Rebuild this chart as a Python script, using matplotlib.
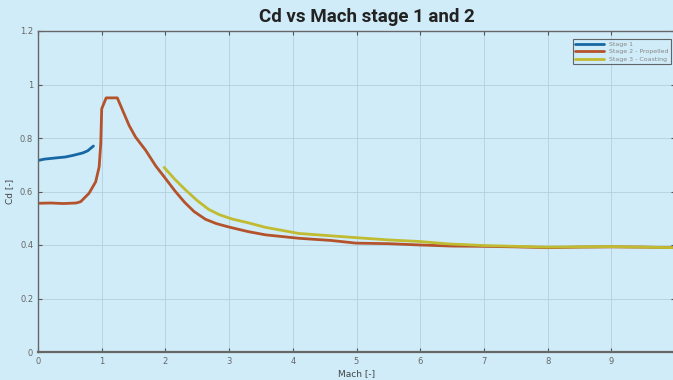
import matplotlib
matplotlib.use("Agg")
import matplotlib.pyplot as plt

# Stage 1
mach_s1 = [0.0, 0.1, 0.3, 0.43, 0.55, 0.7, 0.78, 0.83, 0.87]
cd_s1 = [0.716, 0.721, 0.726, 0.729, 0.735, 0.744, 0.752, 0.762, 0.770]

# Stage 2 - Propelled
mach_s2 = [0.0, 0.2, 0.4, 0.6, 0.67, 0.8, 0.905, 0.96, 0.985, 1.0, 1.07, 1.245,
           1.43, 1.53, 1.69, 1.85, 2.0, 2.15, 2.3, 2.45, 2.63, 2.8, 3.0, 3.3,
           3.57, 4.1, 4.6, 4.99, 5.5, 6.0, 6.5, 7.0, 7.5, 8.0, 8.5, 9.0, 9.5, 10.0]
cd_s2 = [0.556, 0.557, 0.555, 0.557, 0.562, 0.593, 0.636, 0.692, 0.779, 0.909,
         0.950, 0.950, 0.847, 0.804, 0.754, 0.695, 0.649, 0.602, 0.560, 0.525,
         0.496, 0.480, 0.467, 0.450, 0.438, 0.425, 0.417, 0.407, 0.405, 0.400,
         0.396, 0.395, 0.393, 0.390, 0.392, 0.393, 0.392, 0.390]

# Stage 3 - Coasting
mach_s3 = [1.98, 2.15, 2.32, 2.5, 2.68, 2.85, 3.05, 3.3, 3.57, 4.1, 4.62, 5.14,
           5.5, 6.0, 6.45, 7.0, 7.5, 8.0, 8.5, 9.0, 9.5, 10.0]
cd_s3 = [0.690, 0.645, 0.605, 0.566, 0.533, 0.513, 0.497, 0.483, 0.466, 0.443,
         0.434, 0.425, 0.419, 0.413, 0.404, 0.398, 0.395, 0.392, 0.393, 0.394,
         0.392, 0.390]

xticks = [0, 1, 2, 3, 4, 5, 6, 7, 8, 9, 10]
xticklabels = ["0", "1", "2", "3", "4", "5", "6", "7", "8", "9", ""]
yticks = [0, 0.2, 0.4, 0.6, 0.8, 1.0, 1.2]
yticklabels = ["0", "0.2", "0.4", "0.6", "0.8", "1", "1.2"]

bg = "#d0ecf8"
fig = plt.figure(figsize=(6.73, 3.80), dpi=100, facecolor=bg)
ax = fig.add_axes([38/673, 1 - 352/380, (675 - 38)/673, (352 - 31)/380])
ax.set_facecolor(bg)

ax.plot(mach_s1, cd_s1, color="#1667a3", lw=2.0, label="Stage 1", solid_capstyle="round")
ax.plot(mach_s2, cd_s2, color="#b4532b", lw=2.0, label="Stage 2 - Propelled", solid_capstyle="round")
ax.plot(mach_s3, cd_s3, color="#c0bb30", lw=2.0, label="Stage 3 - Coasting", solid_capstyle="round")

ax.set_xlim(0, 10)
ax.set_ylim(0, 1.2)
ax.set_xticks(xticks)
ax.set_xticklabels(xticklabels)
ax.set_yticks(yticks)
ax.set_yticklabels(yticklabels)
ax.grid(True, color="#b3ccd9", lw=0.7, alpha=0.8)
ax.set_axisbelow(True)
ax.tick_params(direction="in", length=3, width=0.8, colors="#555555",
               labelsize=6, labelcolor="#666666", top=True, right=True)
for s in ax.spines.values():
    s.set_color("#666666")
    s.set_linewidth(1.0)
ax.spines["bottom"].set_linewidth(1.6)

ax.set_xlabel("Mach [-]", fontsize=6.5, color="#444444", labelpad=2)
ax.set_ylabel("Cd [-]", fontsize=6.5, color="#444444", labelpad=4)

fig.text(367/673, 1 - 17/380, "Cd vs Mach stage 1 and 2", ha="center", va="center",
         fontsize=13.5, fontweight="bold", color="#222222", family="Roboto")

leg = ax.legend(loc="upper right", bbox_to_anchor=(0.998, 0.985), fontsize=4.5,
                frameon=True, fancybox=False, handlelength=4.5, borderpad=0.4,
                labelspacing=0.35)
leg.get_frame().set_facecolor(bg)
leg.get_frame().set_edgecolor("#444444")
leg.get_frame().set_linewidth(0.8)
for t in leg.get_texts():
    t.set_color("#888888")

fig.savefig("out.png", dpi=100, facecolor=bg)
